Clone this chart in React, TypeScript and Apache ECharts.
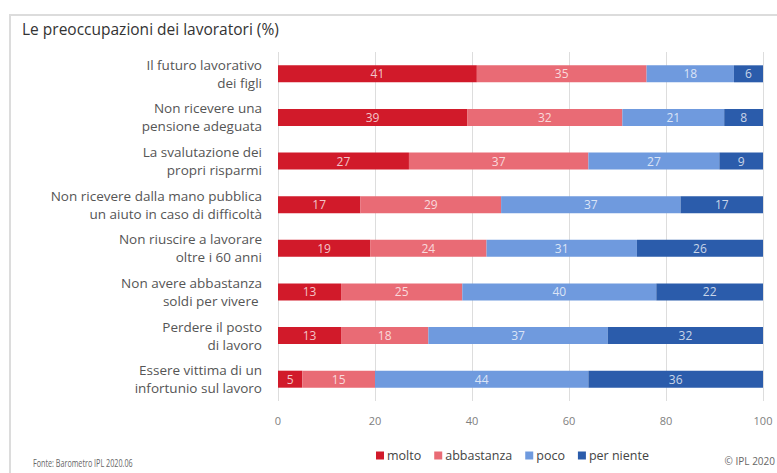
import React, { useEffect, useRef } from "react";
import * as echarts from "echarts";

const categories = [
  "Il futuro lavorativo\ndei figli",
  "Non ricevere una\npensione adeguata",
  "La svalutazione dei\npropri risparmi",
  "Non ricevere dalla mano pubblica\nun aiuto in caso di difficoltà",
  "Non riuscire a lavorare\noltre i 60 anni",
  "Non avere abbastanza\nsoldi per vivere ",
  "Perdere il posto\ndi lavoro",
  "Essere vittima di un\ninfortunio sul lavoro",
];
const molto = [41, 39, 27, 17, 19, 13, 13, 5];
const abbastanza = [35, 32, 37, 29, 24, 25, 18, 15];
const poco = [18, 21, 27, 37, 31, 40, 37, 44];
const perNiente = [6, 8, 9, 17, 26, 22, 32, 36];
const seriesNames = ["molto", "abbastanza", "poco", "per niente"];
const seriesColors = ["#d11a2a", "#e96b75", "#6f9ade", "#2b5cab"];

const FONT = "'Open Sans', sans-serif";

export default function App() {
  const ref = useRef<HTMLDivElement>(null);
  useEffect(() => {
    if (!ref.current) return;
    const chart = echarts.init(ref.current, null, { renderer: "svg" });
    const dataSets = [molto, abbastanza, poco, perNiente];
    chart.setOption({
      animation: false,
      backgroundColor: "#ffffff",
      textStyle: { fontFamily: FONT },
      graphic: [
        {
          type: "rect",
          shape: { x: 10, y: 15, width: 800, height: 500 },
          style: { fill: "none", stroke: "#dcdcdc", lineWidth: 2 },
          silent: true,
        },
        {
          type: "text",
          left: 22,
          top: 21,
          style: { text: "Le preoccupazioni dei lavoratori (%)", fontSize: 15.5, fill: "#333333", fontFamily: FONT },
        },
        {
          type: "text",
          x: 33,
          y: 457,
          scaleX: 0.655,
          style: { text: "Fonte: Barometro IPL 2020.06", fontSize: 11, fill: "#666666", fontFamily: FONT },
        },
        {
          type: "text",
          right: 2,
          top: 456,
          style: { text: "© IPL 2020", fontSize: 10, fill: "#666666", fontFamily: FONT },
        },
      ],
      legend: {
        data: seriesNames,
        left: 371,
        top: 444,
        itemWidth: 8,
        itemHeight: 8,
        itemGap: 13,
        icon: "rect",
        textStyle: { fontSize: 12.5, color: "#444444", fontFamily: FONT, padding: [0, 0, 0, -2] },
      },
      grid: { left: 278, right: 14, top: 52, height: 349, containLabel: false },
      xAxis: {
        type: "value",
        min: 0,
        max: 100,
        interval: 20,
        axisLine: { show: false },
        axisTick: { show: false },
        splitLine: { show: true, lineStyle: { color: "#dddddd", width: 1 } },
        axisLabel: { color: "#808080", fontSize: 11, margin: 14, fontFamily: FONT },
      },
      yAxis: {
        type: "category",
        data: categories,
        inverse: true,
        axisLine: { show: false },
        axisTick: { show: false },
        axisLabel: {
          color: "#555555",
          fontSize: 13.5,
          lineHeight: 18,
          margin: 16,
          align: "right",
          fontFamily: FONT,
        },
      },
      series: dataSets.map((d, i) => ({
        name: seriesNames[i],
        type: "bar",
        stack: "total",
        data: d,
        barWidth: 17,
        itemStyle: { color: seriesColors[i] },
        label: {
          show: true,
          position: "inside",
          color: "rgba(255,255,255,0.75)",
          fontSize: 12,
          fontFamily: FONT,
        },
      })),
    });
    return () => chart.dispose();
  }, []);
  return <div ref={ref} style={{ width: 777, height: 473, position: "absolute", left: 0, top: 0 }} />;
}
